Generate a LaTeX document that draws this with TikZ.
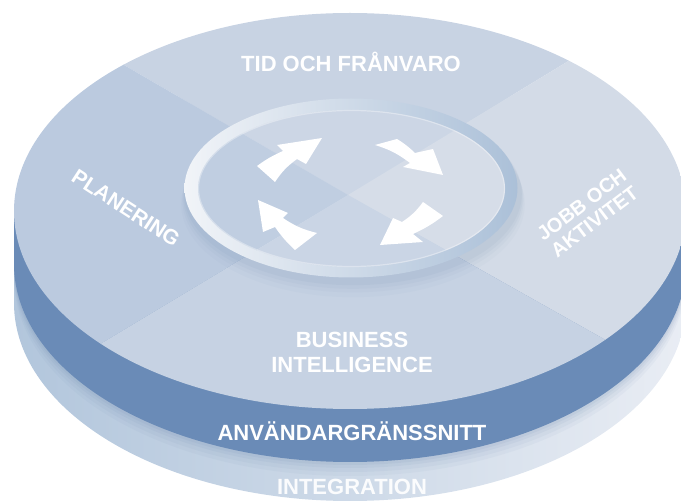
\documentclass[tikz,border=0pt]{standalone}
\usepackage{fontspec}
\setmainfont{Liberation Sans}
\definecolor{qtop}{HTML}{C8D3E3}
\definecolor{qleft}{HTML}{BBCADF}
\definecolor{qright}{HTML}{D3DBE7}
\definecolor{qbot}{HTML}{C6D2E3}
\definecolor{band}{HTML}{6A8BB7}
\definecolor{botL}{HTML}{B2C6DC}
\definecolor{botR}{HTML}{E9EDF4}
\definecolor{rimL}{HTML}{F1F4F8}
\definecolor{rimM}{HTML}{D4DEEA}
\definecolor{rimR}{HTML}{ABC0D8}
\definecolor{shad}{HTML}{5F7DA6}
\tikzset{
  lbl/.style={text=white, inner sep=0pt, font=\bfseries\fontsize{22}{25}\selectfont},
  arrowfill/.style={fill=white, draw=none},
  quads/.pic={
    \fill[qtop]   (348,309) -- (-212,634) -- (896,642) -- cycle;
    \fill[qleft]  (348,309) -- (-212,634) -- (-267,-61) -- cycle;
    \fill[qright] (348,309) -- (896,642) -- (993,-54) -- cycle;
    \fill[qbot]   (348,309) -- (-267,-61) -- (993,-54) -- cycle;
  }
}
\begin{document}
\begin{tikzpicture}[x=1pt,y=1pt]
\useasboundingbox (0,0) rectangle (681,504);
% bottom layer (INTEGRATION)
\shade[left color=botL, right color=botR]
  (14,293) -- (686,293) -- (686,201)
  arc[start angle=0, end angle=-180, x radius=336, y radius=198] -- cycle;
% soft shadow under the dark band
\foreach \c/\o in {226/0.05,230/0.06,234/0.07,237/0.08}
  \fill[shad, opacity=\o] (350,\c) ellipse[x radius=336, y radius=198];
% dark band (ANVÄNDARGRÄNSSNITT)
\fill[band]
  (14,293) -- (686,293) -- (686,240)
  arc[start angle=0, end angle=-180, x radius=336, y radius=198] -- cycle;
% top surface with quadrants
\begin{scope}
  \clip (350,293) ellipse[x radius=336, y radius=198];
  \pic {quads};
  % shadow of the ring
  \foreach \d/\o in {16/0.03,12/0.04,9/0.05,6/0.06}
    \fill[shad, opacity=\o] (353,316-\d) ellipse[x radius=167+\d*0.3, y radius=90+\d*0.2];
\end{scope}
% ring rim
\shade[left color=rimL, middle color=rimM, right color=rimR]
  (351,316) ellipse[x radius=166.5, y radius=89.5];
\begin{scope}
  \clip (351.5,315.5) ellipse[x radius=153.5, y radius=78.5];
  \pic {quads};
  \fill[white, opacity=0.08] (351.5,315.5) ellipse[x radius=153.5, y radius=78.5];
\end{scope}
\draw[white, opacity=0.35, line width=1.2pt] (351.5,315.5) ellipse[x radius=153, y radius=78];
% arrows (clockwise cycle)
\fill[arrowfill] (275,322) -- (257,338) to[bend left=6] (283,353) -- (277,359) -- (322,366)
  -- (306,340) -- (297,345) to[bend right=10] cycle;
\fill[arrowfill] (375,359) -- (397,365) to[bend left=6] (415,351) -- (433,355) -- (443,329)
  -- (403,337) -- (410,341) to[bend right=10] cycle;
\fill[arrowfill] (423,302) -- (443,288) to[bend left=6] (413,270) -- (423,262) -- (380,259)
  -- (393,286) -- (402,282) to[bend right=10] cycle;
\fill[arrowfill] (317,271) -- (295,254) to[bend left=6] (275,277) -- (263,272) -- (258,304)
  -- (288,291) -- (283,286) to[bend right=10] cycle;
% labels
\node[lbl] (tid) at (351,442) {TID OCH FRÅNVARO};
\node[lbl, rotate=-33, font=\bfseries\fontsize{21}{25}\selectfont] (plan) at (126,296) {PLANERING};
\node[lbl, rotate=37, align=center, font=\bfseries\fontsize{20}{21}\selectfont] (jobb) at (588,291) {JOBB OCH\\AKTIVITET};
\node[lbl, align=center] (bi) at (352,152) {BUSINESS\\INTELLIGENCE};
\node[lbl] (anv) at (352,73) {ANVÄNDARGRÄNSSNITT};
\node[lbl, text opacity=0.92] (int) at (352,17) {INTEGRATION};
\end{tikzpicture}
\end{document}
